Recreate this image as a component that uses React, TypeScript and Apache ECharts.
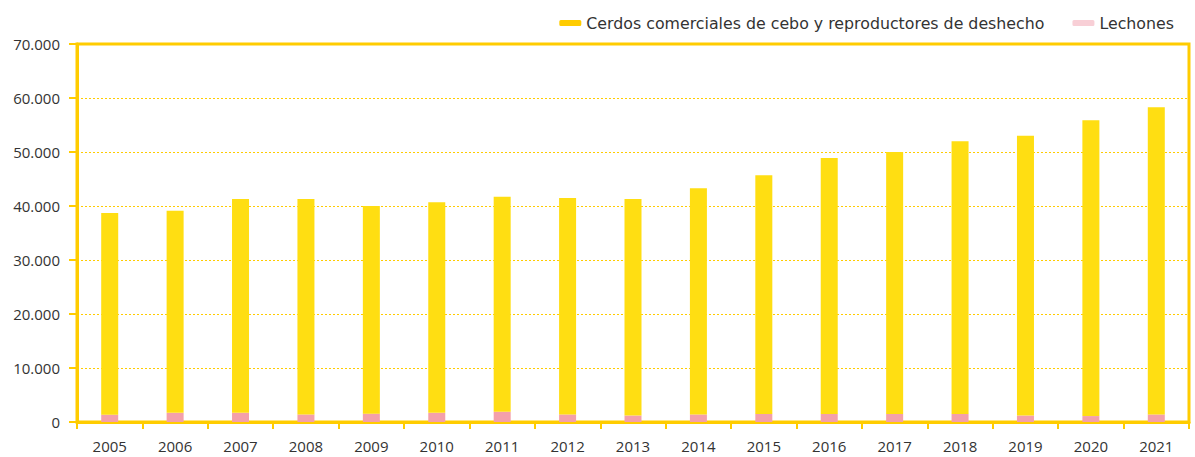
import React, { useEffect, useRef } from "react";
import * as echarts from "echarts";

const years = ["2005","2006","2007","2008","2009","2010","2011","2012","2013","2014","2015","2016","2017","2018","2019","2020","2021"];
const lechones = [1350,1700,1700,1400,1550,1700,1900,1400,1200,1400,1500,1500,1500,1500,1200,1100,1400];
const cerdos = [37350,37400,39600,39900,38450,39000,39800,40100,40100,41900,44200,47400,48500,50500,51800,54800,56900];

const AXIS = "#FFCC00";
const YELLOW = "#FFDE12";
const PINK = "#F4A0AA";
const FONT = "'Open Sans', 'Noto Sans', sans-serif";
const LEGEND_FONT = "'DejaVu Sans', 'Open Sans', sans-serif";

const fmt = (v: number) => String(v).replace(/\B(?=(\d{3})+(?!\d))/g, ".");

export default function App() {
  const ref = useRef<HTMLDivElement>(null);
  useEffect(() => {
    const chart = echarts.init(ref.current!, null, { renderer: "svg" });
    chart.setOption({
      animation: false,
      textStyle: { fontFamily: FONT },
      legend: {
        right: 16,
        top: 10,
        itemWidth: 22,
        itemHeight: 6,
        itemGap: 28,
        textStyle: { fontSize: 15.8, color: "#333", fontFamily: LEGEND_FONT },
        data: [
          { name: "Cerdos comerciales de cebo y reproductores de deshecho", itemStyle: { color: "#FFCC00" } },
          { name: "Lechones", itemStyle: { color: "#F8CFD6" } },
        ],
      },
      grid: {
        left: 77, right: 6, top: 44, bottom: 35,
        show: true, borderColor: AXIS, borderWidth: 3, backgroundColor: "transparent",
      },
      xAxis: {
        type: "category",
        data: years,
        boundaryGap: true,
        axisLine: { lineStyle: { color: AXIS, width: 3 } },
        axisTick: { show: true, length: 7, lineStyle: { color: AXIS, width: 2 } },
        axisLabel: { color: "#333", fontSize: 15, margin: 16, fontFamily: FONT },
      },
      yAxis: {
        type: "value",
        min: 0, max: 70000, interval: 10000,
        axisLine: { show: true, lineStyle: { color: AXIS, width: 3 } },
        axisTick: { show: true, length: 8, lineStyle: { color: AXIS, width: 2 } },
        axisLabel: { color: "#333", fontSize: 15, margin: 17, fontFamily: FONT, formatter: (v: number) => fmt(v) },
        splitLine: { show: true, lineStyle: { color: AXIS, type: [2, 2], width: 1 } },
      },
      series: [
        {
          name: "Lechones",
          type: "bar",
          stack: "total",
          data: lechones,
          barWidth: 17,
          itemStyle: { color: PINK },
        },
        {
          name: "Cerdos comerciales de cebo y reproductores de deshecho",
          type: "bar",
          stack: "total",
          data: cerdos,
          barWidth: 17,
          itemStyle: { color: YELLOW },
        },
      ],
    });
    return () => chart.dispose();
  }, []);
  return <div ref={ref} style={{ width: 1195, height: 457, position: "absolute", left: 0, top: 0 }} />;
}
